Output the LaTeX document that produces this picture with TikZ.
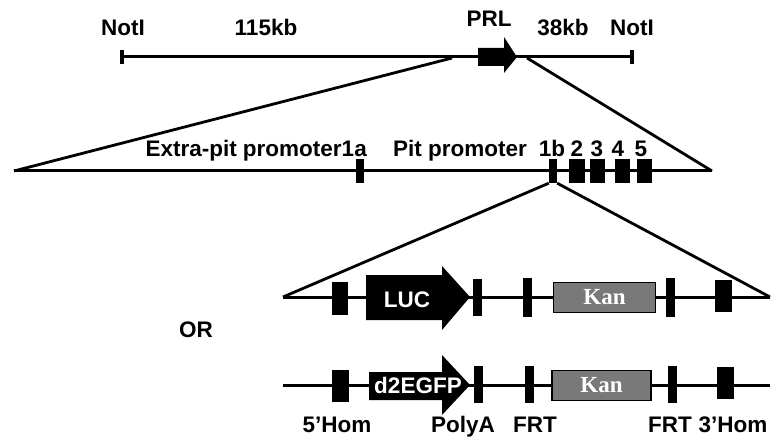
\documentclass[tikz,border=0pt]{standalone}
\usepackage{fontspec}
\setmainfont{Liberation Sans}
\newfontfamily\kanfont{Liberation Serif}
\begin{document}
\begin{tikzpicture}[x=1pt,y=-1pt,
  dna/.style={line width=3pt},
  diag/.style={line width=2.8pt},
  tick/.style={line width=3.2pt},
  exonbox/.style={rectangle, fill=black, draw=none, inner sep=0pt},
  lbl/.style={font=\fontsize{22.5}{22.5}\selectfont\bfseries, anchor=base, inner sep=0pt},
  wlbl/.style={lbl, text=white},
  kanbox/.style={rectangle, fill=gray!95!black, draw=black, line width=1.6pt, inner sep=0pt,
     minimum height=30pt, font=\kanfont\fontsize{23}{23}\selectfont\bfseries, text=white},
  gene/.style={fill=black, draw=none}
]
\useasboundingbox (0,0) rectangle (777,441);

% ---------- top row ----------
\coordinate (tL) at (122,57);
\coordinate (tR) at (632,57);
\draw[dna] (tL) -- (tR);
\draw[tick] (122,50) -- (122,64);
\draw[tick] (632,50) -- (632,64);
\fill[gene] (478,48) -- (504,48) -- (504,37) -- (517,57) -- (504,73) -- (504,66) -- (478,66) -- cycle;
\node[lbl] (n1) at (123,36) {NotI};
\node[lbl] (kb115) at (266,36) {115kb};
\node[lbl] (prl) at (489,27) {PRL};
\node[lbl] (kb38) at (563,36) {38kb};
\node[lbl] (n2) at (632,36) {NotI};
\coordinate (zL) at (452,58);
\coordinate (zR) at (527,58);

% ---------- second row ----------
\coordinate (sL) at (14,171);
\coordinate (sR) at (712,171);
\draw[dna] (sL) -- (sR);
\draw[diag] (zL) -- (sL);
\draw[diag] (zR) -- (sR);
\node[exonbox, minimum width=8pt, minimum height=24pt] (e1a) at (360,171) {};
\node[exonbox, minimum width=8pt, minimum height=24pt] (e1b) at (553,171) {};
\node[exonbox, minimum width=16pt, minimum height=24pt] (e2) at (577,171) {};
\node[exonbox, minimum width=15pt, minimum height=24pt] (e3) at (597.5,171) {};
\node[exonbox, minimum width=15pt, minimum height=24pt] (e4) at (622.5,171) {};
\node[exonbox, minimum width=15pt, minimum height=24pt] (e5) at (644.5,171) {};
\node[lbl, anchor=base east] (extra) at (367,157) {Extra-pit promoter1a};
\node[lbl] (pit) at (460,157) {Pit promoter};
\node[lbl] (l1b) at (552,157) {1b};
\node[lbl] (l2) at (577,157) {2};
\node[lbl] (l3) at (597,157) {3};
\node[lbl] (l4) at (618,157) {4};
\node[lbl] (l5) at (641,157) {5};

% ---------- LUC row ----------
\coordinate (uL) at (283,297);
\coordinate (uR) at (770,297);
\draw[dna] (uL) -- (uR);
\draw[diag] (e1b.south west) -- (uL);
\draw[diag] (e1b.south east) -- (uR);
\node[exonbox, minimum width=16pt, minimum height=33pt] (uh5) at (340,298) {};
\fill[gene] (366,275) -- (442,275) -- (442,266) -- (470,297) -- (442,330) -- (442,320) -- (366,320) -- cycle;
\node[wlbl] (luc) at (407,307) {LUC};
\node[exonbox, minimum width=9pt, minimum height=37pt] (upa) at (477.5,297) {};
\node[exonbox, minimum width=9pt, minimum height=39pt] (ufrt1) at (527.5,297) {};
\node[kanbox, minimum width=102pt] (ukan) at (604.5,297.5) {Kan};
\node[exonbox, minimum width=9pt, minimum height=39pt] (ufrt2) at (670,297) {};
\node[exonbox, minimum width=17pt, minimum height=32pt] (uh3) at (723,296) {};

\node[lbl] (or) at (196,337) {OR};

% ---------- d2EGFP row ----------
\coordinate (gL) at (283,385);
\coordinate (gR) at (770,385);
\draw[dna] (gL) -- (gR);
\node[exonbox, minimum width=17pt, minimum height=32pt] (gh5) at (340.5,386) {};
\fill[gene] (369,372) -- (442,372) -- (442,355) -- (470,385) -- (442,415) -- (442,400) -- (369,400) -- cycle;
\node[wlbl] (gfp) at (418,393) {d2EGFP};
\node[exonbox, minimum width=9pt, minimum height=37pt] (gpa) at (478.5,384) {};
\node[exonbox, minimum width=9pt, minimum height=37pt] (gfrt1) at (529,384) {};
\node[kanbox, minimum width=99pt] (gkan) at (601.5,385.5) {Kan};
\node[exonbox, minimum width=9pt, minimum height=37pt] (gfrt2) at (672.5,384) {};
\node[exonbox, minimum width=17pt, minimum height=32pt] (gh3) at (725.5,383) {};

\node[lbl] (b5) at (337,432) {5'Hom};
\node[lbl] (bpa) at (463,432) {PolyA};
\node[lbl] (bf1) at (535,432) {FRT};
\node[lbl] (bf2) at (670,432) {FRT};
\node[lbl] (b3) at (733,432) {3'Hom};
\end{tikzpicture}
\end{document}
